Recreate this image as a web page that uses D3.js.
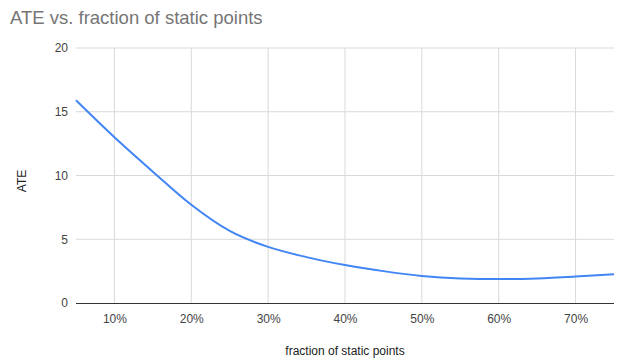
<!DOCTYPE html>
<html><head><meta charset="utf-8">
<script src="https://cdn.jsdelivr.net/npm/d3@7"></script>
<style>body{margin:0;background:#fff}svg{display:block}</style>
</head><body>
<script>
const fractions = [0.05,0.10,0.15,0.20,0.25,0.30,0.35,0.40,0.45,0.50,0.55,0.60,0.65,0.70,0.75];
const ate =       [15.9,13.0,10.3,7.7,5.65,4.4,3.6,2.98,2.5,2.12,1.93,1.88,1.93,2.07,2.25];
const xTicks = [0.1,0.2,0.3,0.4,0.5,0.6,0.7];
const yTicks = [0,5,10,15,20];
const title = "ATE vs. fraction of static points";
const xTitle = "fraction of static points";
const yTitle = "ATE";

const W=625,H=362;
const m={l:76,r:11,t:48,b:59};
const svg=d3.select("body").append("svg").attr("width",W).attr("height",H);
const x=d3.scaleLinear().domain([0.05,0.75]).range([m.l,W-m.r]);
const y=d3.scaleLinear().domain([0,20]).range([H-m.b,m.t]);
const font="Arial, 'Liberation Sans', sans-serif";

svg.append("text").attr("x",10).attr("y",24).attr("font-family",font).attr("font-size",18.5).attr("fill","#757575").text(title);

const g=svg.append("g");
g.selectAll(".vg").data(xTicks).join("line").attr("x1",d=>x(d)).attr("x2",d=>x(d)).attr("y1",y(20)).attr("y2",y(0)).attr("stroke","#d9d9d9").attr("stroke-width",1);
g.selectAll(".hg").data(yTicks.filter(d=>d>0)).join("line").attr("x1",m.l).attr("x2",W-m.r).attr("y1",d=>y(d)).attr("y2",d=>y(d)).attr("stroke","#d9d9d9").attr("stroke-width",1);

const yAxis=d3.axisLeft(y).tickValues(yTicks).tickSize(0).tickPadding(8);
svg.append("g").attr("transform",`translate(${m.l},0)`).call(yAxis).call(s=>s.select(".domain").remove())
  .selectAll("text").attr("font-family",font).attr("font-size",12).attr("fill","#444");
const xAxis=d3.axisBottom(x).tickValues(xTicks).tickFormat(d3.format(".0%")).tickSize(0).tickPadding(11);
svg.append("g").attr("transform",`translate(0,${y(0)})`).call(xAxis).call(s=>s.select(".domain").remove())
  .selectAll("text").attr("font-family",font).attr("font-size",12).attr("fill","#444");
svg.append("line").attr("x1",m.l).attr("x2",W-m.r).attr("y1",y(0)+0.5).attr("y2",y(0)+0.5).attr("stroke","#333").attr("stroke-width",1);

const line=d3.line().x((d,i)=>x(fractions[i])).y(d=>y(d)).curve(d3.curveMonotoneX);
svg.append("path").datum(ate).attr("d",line).attr("fill","none").attr("stroke","#4285f4").attr("stroke-width",2);

svg.append("text").attr("x",(m.l+W-m.r)/2).attr("y",355).attr("text-anchor","middle").attr("font-family",font).attr("font-size",12).attr("fill","#222").text(xTitle);
svg.append("text").attr("transform",`translate(26,181) rotate(-90)`).attr("text-anchor","middle").attr("font-family",font).attr("font-size",12).attr("fill","#222").text(yTitle);
</script>
</body></html>
